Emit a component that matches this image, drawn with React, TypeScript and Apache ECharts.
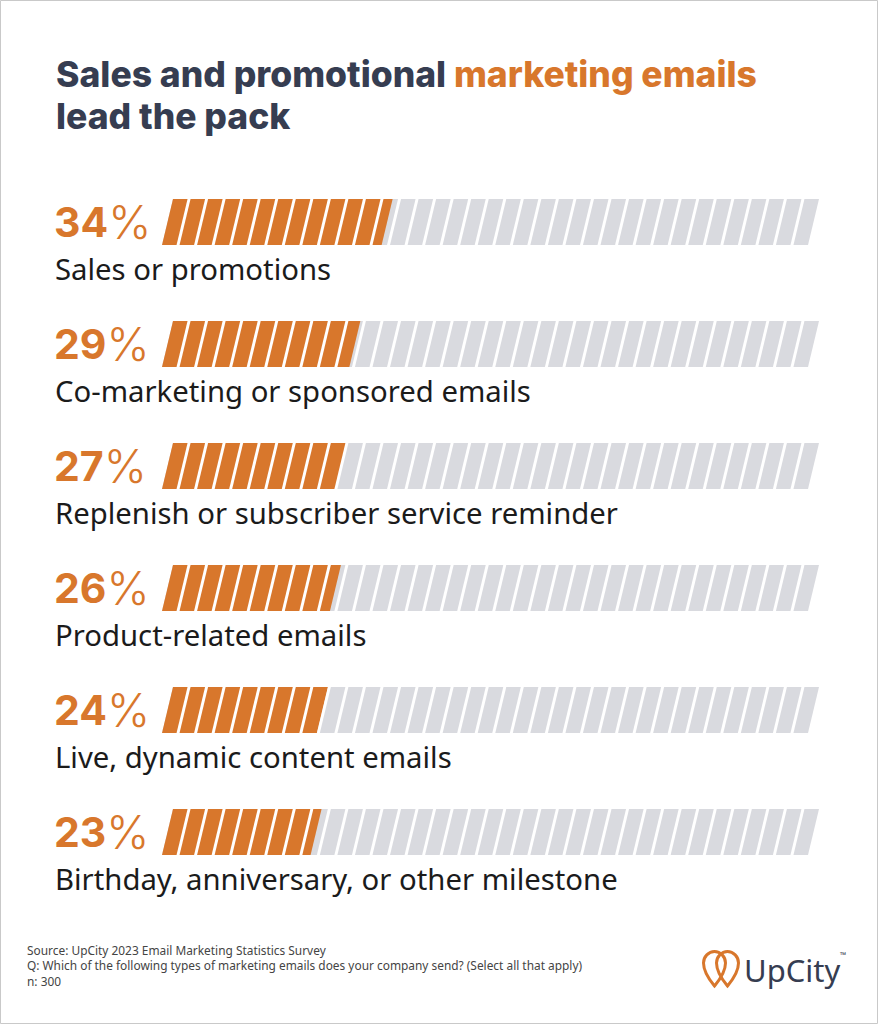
import React, { useEffect, useRef } from "react";
import * as echarts from "echarts";

const categories = [
  "Sales or promotions",
  "Co-marketing or sponsored emails",
  "Replenish or subscriber service reminder",
  "Product-related emails",
  "Live, dynamic content emails",
  "Birthday, anniversary, or other milestone",
];
const values = [34, 29, 27, 26, 24, 23];
const titleLine1a = "Sales and promotional ";
const titleLine1b = "marketing emails";
const titleLine2 = "lead the pack";
const footerLines = [
  "Source: UpCity 2023 Email Marketing Statistics Survey",
  "Q: Which of the following types of marketing emails does your company send? (Select all that apply)",
  "n: 300",
];

const ORANGE = "#D8772C";
const GRAY = "#D9DADF";
const DARK = "#363D51";
const TEXT = "#1b1b1b";

const PIN =
  "M12.5 36 C 5 27 1.5 20 1.5 13 C 1.5 6.6 6.6 1.5 12.5 1.5 C 18.4 1.5 23.5 6.6 23.5 13 C 23.5 20 20 27 12.5 36 Z";

export default function App() {
  const ref = useRef<HTMLDivElement>(null);
  useEffect(() => {
    document.body.style.margin = "0";
    try {
      echarts.graphic.registerShape("pin", echarts.graphic.extendPath(PIN, {}));
    } catch (e) {}
    const chart = echarts.init(ref.current!, undefined, { renderer: "svg" });
    const data = values.map((v, i) => [v, i]);
    chart.setOption({
      animation: false,
      backgroundColor: "#ffffff",
      title: {
        left: 51,
        top: 48,
        text: `{a|${titleLine1a}}{b|${titleLine1b}}\n{a|${titleLine2}}`,
        textStyle: {
          rich: {
            a: { fontFamily: "Inter", fontWeight: 800, fontSize: 35.5, color: DARK, lineHeight: 42 },
            b: { fontFamily: "Inter", fontWeight: 800, fontSize: 35.5, color: ORANGE, lineHeight: 42 },
          },
        },
      },
      grid: { left: 173, width: 646, top: 161, height: 732, containLabel: false },
      xAxis: { type: "value", min: 0, max: 100, show: false },
      yAxis: { type: "category", data: categories, inverse: true, show: false },
      series: [
        {
          type: "custom",
          encode: { x: 0, y: 1 },
          data,
          renderItem: (params: any, api: any) => {
            const idx = api.value(1);
            const v = api.value(0);
            const [x0, yc] = api.coord([0, idx]);
            const x1 = api.coord([100, idx])[0];
            const xv = api.coord([v, idx])[0];
            const h = 46;
            const s = 11;
            const top = yc - h / 2;
            const bot = yc + h / 2;
            const para = (a: number, b: number) => [
              [a, top],
              [b, top],
              [b - s, bot],
              [a - s, bot],
            ];
            const children: any[] = [
              { type: "polygon", shape: { points: para(x0, x1) }, style: { fill: GRAY } },
              { type: "polygon", shape: { points: para(x0, xv) }, style: { fill: ORANGE } },
            ];
            const N = 37;
            const gap = 3;
            const pitch = (x1 - x0 + gap) / N;
            for (let i = 1; i < N; i++) {
              const a = x0 + i * pitch - gap;
              children.push({
                type: "polygon",
                shape: { points: para(a, a + gap) },
                style: { fill: "#ffffff" },
              });
            }
            children.push({
              type: "text",
              x: x0 - 119,
              y: yc,
              style: {
                text: `{n|${v}}{p|%}`,
                verticalAlign: "middle",
                align: "left",
                rich: {
                  n: { fontFamily: "Inter", fontWeight: 700, fontSize: 41, fill: ORANGE },
                  p: { fontFamily: "Inter", fontWeight: 300, fontSize: 46, fill: ORANGE },
                },
              },
            });
            children.push({
              type: "text",
              x: x0 - 118,
              y: yc + 47,
              style: {
                text: categories[idx],
                verticalAlign: "middle",
                align: "left",
                fontFamily: "Noto Sans",
                fontSize: 29.3,
                fill: TEXT,
              },
            });
            return { type: "group", children };
          },
        },
      ],
      graphic: [
        {
          type: "rect",
          shape: { x: 0.5, y: 0.5, width: 877, height: 1023 },
          style: { fill: "none", stroke: "#c9c9c9", lineWidth: 1 },
          silent: true,
        },
        {
          type: "text",
          left: 27,
          top: 942,
          style: {
            text: footerLines.join("\n"),
            fontFamily: "Noto Sans",
            fontSize: 11.9,
            lineHeight: 15.5,
            fill: "#444444",
          },
        },
        {
          type: "pin",
          x: 702,
          y: 950,
          style: { fill: "none", stroke: ORANGE, lineWidth: 3 },
        },
        {
          type: "pin",
          x: 715,
          y: 950,
          style: { fill: "none", stroke: ORANGE, lineWidth: 3 },
        },
        {
          type: "text",
          x: 744,
          y: 970,
          style: {
            text: "UpCity",
            fontFamily: "Noto Sans",
            fontSize: 31,
            fill: DARK,
            verticalAlign: "middle",
            align: "left",
          },
        },
        {
          type: "text",
          x: 840,
          y: 954,
          style: {
            text: "™",
            fontFamily: "Noto Sans",
            fontSize: 8,
            fill: DARK,
            verticalAlign: "middle",
            align: "left",
          },
        },
      ],
    });
    return () => chart.dispose();
  }, []);
  return <div ref={ref} style={{ width: 878, height: 1024 }} />;
}
